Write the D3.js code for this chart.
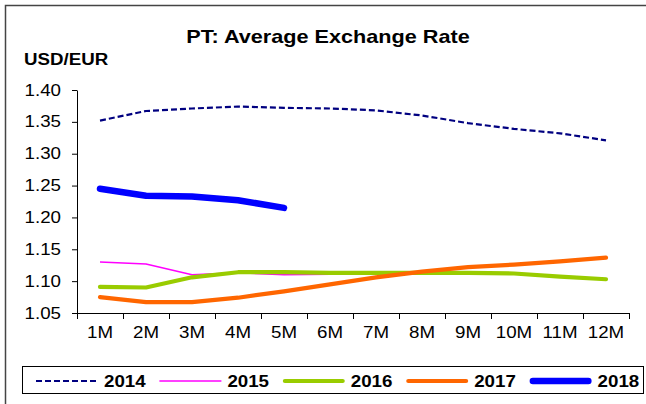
<!DOCTYPE html>
<html>
<head>
<meta charset="utf-8">
<script src="https://cdn.jsdelivr.net/npm/d3@7"></script>
<style>
  html, body { margin: 0; padding: 0; background: #fff; }
  svg { display: block; font-family: "Liberation Sans", Arial, sans-serif; }
</style>
</head>
<body>
<svg id="chart" width="646" height="404"></svg>
<script>
// Monthly year-to-date average USD/EUR rate, by year
const months = ["1M","2M","3M","4M","5M","6M","7M","8M","9M","10M","11M","12M"];
const years = ["2014","2015","2016","2017","2018"];
const rate2014 = [1.352,1.367,1.371,1.374,1.372,1.371,1.368,1.360,1.348,1.339,1.332,1.321];
const rate2015 = [1.130,1.127,1.110,1.113,1.110,1.111,1.111,1.111,1.112,1.112,1.107,1.103];
const rate2016 = [1.091,1.090,1.106,1.114,1.114,1.113,1.113,1.113,1.113,1.112,1.107,1.103];
const rate2017 = [1.075,1.067,1.067,1.074,1.084,1.095,1.106,1.115,1.122,1.126,1.131,1.137];
const rate2018 = [1.245,1.234,1.233,1.227,1.215];
const yTicks = [1.05,1.10,1.15,1.20,1.25,1.30,1.35,1.40];

const seriesValues = [rate2014, rate2015, rate2016, rate2017, rate2018];
const styles = [
  {color:"#000080", width:2.2, dash:"6,3", cap:"butt"},
  {color:"#ff00ff", width:1.5, dash:null, cap:"butt"},
  {color:"#99cc00", width:4.2, dash:null, cap:"round"},
  {color:"#ff6600", width:4.2, dash:null, cap:"round"},
  {color:"#0000ff", width:6.5, dash:null, cap:"round"}
];

const svg = d3.select("#chart");
const K = 1.17; // horizontal stretch of the lettering

function stretch(sel) {
  sel.each(function () {
    const w = this.getComputedTextLength();
    this.setAttribute("textLength", w * K);
    this.setAttribute("lengthAdjust", "spacingAndGlyphs");
  });
}

// outer frame (left and top edges)
svg.append("path")
  .attr("d", "M5.5,404 V5.5 H646")
  .attr("fill", "none").attr("stroke", "#444").attr("stroke-width", 1.5);

const x = d3.scaleBand().domain(months).range([77, 629]).padding(0);
const xEdge = d3.scaleLinear().domain([0, months.length]).range([77, 629]);
const y = d3.scaleLinear().domain([1.05, 1.40]).range([313, 90]);

// title and unit
svg.append("text").attr("x", 328).attr("y", 43)
  .attr("text-anchor", "middle").attr("font-weight", "bold").attr("font-size", 18.5)
  .text("PT: Average Exchange Rate").call(stretch);
svg.append("text").attr("x", 24).attr("y", 65)
  .attr("font-weight", "bold").attr("font-size", 16)
  .text("USD/EUR").call(stretch);

// y axis
const gy = svg.append("g").attr("transform", "translate(77,0)")
  .call(d3.axisLeft(y).tickValues(yTicks).tickFormat(d3.format(".2f")).tickSize(5).tickSizeOuter(0).tickPadding(11));
gy.selectAll("text").attr("font-size", 16).attr("fill", "#000").attr("font-family", "Liberation Sans, Arial, sans-serif").call(stretch);
gy.selectAll("line,path").attr("stroke", "#000");

// x axis: boundary ticks and centred month labels
const gxTicks = svg.append("g").attr("transform", "translate(0,313)")
  .call(d3.axisBottom(xEdge).tickValues(d3.range(months.length + 1)).tickFormat("").tickSize(6).tickSizeOuter(0));
gxTicks.selectAll("line,path").attr("stroke", "#000");
const gx = svg.append("g").attr("transform", "translate(0,313)")
  .call(d3.axisBottom(x).tickSize(0).tickPadding(14));
gx.select("path").remove();
gx.selectAll("text").attr("font-size", 16).attr("fill", "#000").attr("font-family", "Liberation Sans, Arial, sans-serif").call(stretch);

// series lines
const line = d3.line()
  .x((d, i) => x(months[i]) + x.bandwidth() / 2)
  .y(d => y(d));

seriesValues.forEach((vals, i) => {
  const s = styles[i];
  svg.append("path").datum(vals)
    .attr("d", line)
    .attr("fill", "none")
    .attr("stroke", s.color)
    .attr("stroke-width", s.width)
    .attr("stroke-linecap", s.cap)
    .attr("stroke-linejoin", "round")
    .attr("stroke-dasharray", s.dash);
});

// legend
svg.append("rect").attr("x", 22.5).attr("y", 366.5).attr("width", 621).attr("height", 27)
  .attr("fill", "#fff").attr("stroke", "#000").attr("stroke-width", 1);
const lg = svg.append("g");
years.forEach((yr, i) => {
  const s = styles[i];
  const x0 = 36 + i * 123.4;
  const inset = s.cap === "round" ? s.width / 2 : 0;
  lg.append("line")
    .attr("x1", x0 + inset).attr("x2", x0 + 62 - inset)
    .attr("y1", 381).attr("y2", 381)
    .attr("stroke", s.color).attr("stroke-width", s.width)
    .attr("stroke-linecap", s.cap).attr("stroke-dasharray", s.dash);
  lg.append("text").attr("x", x0 + 68).attr("y", 387)
    .attr("font-weight", "bold").attr("font-size", 16)
    .text(yr).call(stretch);
});
</script>
</body>
</html>
